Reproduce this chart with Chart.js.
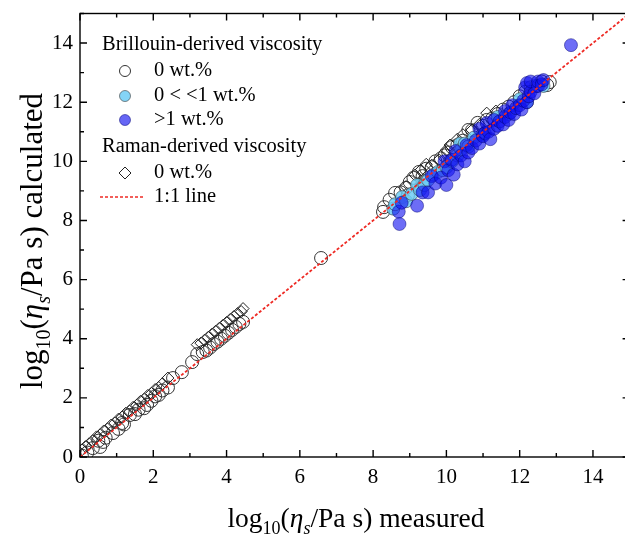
<!DOCTYPE html>
<html>
<head>
<meta charset="utf-8">
<script src="https://cdn.jsdelivr.net/npm/chart.js@4.4.0/dist/chart.umd.min.js"></script>
<style>
  html, body { margin: 0; padding: 0; background: #fff; overflow: hidden; }
</style>
</head>
<body>
<canvas id="viscChart" width="640" height="535"></canvas>
<script>
// --- data (log10 viscosity, measured vs calculated) ---

// Brillouin-derived, 0 wt.% (open circles)
const openX = [0.05, 0.2, 0.35, 0.55, 0.5, 0.63, 0.7, 0.9, 1.05, 1.15, 1.2, 1.36, 1.5, 1.6, 1.75, 1.83, 1.95, 2.05, 2.15, 2.25, 2.4, 2.54, 2.78, 3.06, 3.2, 3.35, 3.45, 3.55, 3.65, 3.75, 3.85, 3.95, 4.05, 4.15, 4.25, 4.35, 4.45, 6.58,
  8.27, 8.3, 8.45, 8.6, 8.75, 8.9, 8.95, 9.0, 9.1, 9.25, 9.35, 9.4, 9.45, 9.6, 9.7, 9.85, 9.95, 10.05, 10.1, 10.15, 10.3, 10.45, 10.6, 10.7, 10.85, 11.0, 11.1, 11.25, 11.4, 11.55, 11.7, 11.85, 12.0, 12.15, 12.3, 12.45, 12.6, 12.75, 12.82];
const openY = [0.05, 0.15, 0.3, 0.34, 0.55, 0.51, 0.65, 0.81, 0.95, 1.15, 1.1, 1.42, 1.45, 1.6, 1.65, 1.76, 1.9, 2.05, 2.1, 2.25, 2.35, 2.67, 2.87, 3.21, 3.48, 3.55, 3.6, 3.7, 3.82, 3.9, 4.0, 4.1, 4.2, 4.3, 4.4, 4.5, 4.57, 6.73,
  8.29, 8.45, 8.7, 8.93, 8.95, 9.1, 8.85, 9.3, 9.44, 9.64, 9.5, 9.3, 9.75, 9.8, 10.0, 10.1, 10.2, 10.3, 10.0, 10.48, 10.55, 10.7, 11.06, 11.05, 11.3, 11.2, 11.4, 11.45, 11.6, 11.75, 11.85, 12.0, 12.2, 12.35, 12.5, 12.55, 12.7, 12.58, 12.68];

// Brillouin-derived, 0 < <1 wt.% (light blue)
const lightX = [8.55, 8.6, 8.79, 8.9, 9.05, 9.2, 9.28, 9.4, 9.5, 9.65, 9.77, 9.9, 10.0, 10.15, 10.3, 10.37, 10.4, 10.5, 10.6, 10.75, 11.0, 11.4, 11.7, 12.0, 12.2, 12.65];
const lightY = [8.4, 8.55, 8.79, 8.65, 8.9, 9.2, 9.03, 9.2, 9.37, 9.55, 9.64, 9.7, 9.8, 10.0, 10.2, 10.6, 10.4, 10.6, 10.5, 10.8, 10.9, 11.5, 11.6, 12.1, 12.0, 12.55];

// Brillouin-derived, >1 wt.% (blue)
const blueX = [8.72, 8.7, 8.78, 9.2, 9.35, 9.5, 9.6, 9.7, 9.85, 9.95, 10.0, 10.05, 10.15, 10.2, 10.25, 10.3, 10.4, 10.5, 10.55, 10.6, 10.7, 10.8, 10.9, 10.9, 11.0, 11.05, 11.1, 11.15, 11.2, 11.3, 11.3, 11.4, 11.45, 11.55, 11.6, 11.6, 11.7, 11.75, 11.8, 11.85, 11.9, 12.0, 12.05, 12.1, 12.15, 12.2, 12.2, 12.25, 12.3, 12.3, 12.4, 12.5, 12.5, 12.6, 12.65, 13.4];
const blueY = [7.88, 8.3, 8.6, 8.5, 8.95, 8.95, 9.5, 9.25, 9.45, 10.0, 9.2, 9.7, 10.05, 9.55, 10.35, 9.9, 10.2, 10.0, 10.55, 10.3, 10.45, 10.7, 10.6, 11.1, 10.85, 10.95, 11.3, 11.0, 10.75, 11.1, 11.4, 11.2, 11.35, 11.25, 11.5, 11.7, 11.4, 11.65, 11.9, 11.6, 11.8, 11.9, 11.75, 12.05, 12.5, 12.0, 12.65, 12.2, 12.35, 12.7, 12.3, 12.55, 12.7, 12.6, 12.75, 13.93];

// Raman-derived, 0 wt.% (open diamonds)
const ramanX = [0.05, 0.15, 0.25, 0.35, 0.45, 0.55, 0.65, 0.75, 0.85, 0.95, 1.05, 1.15, 1.25, 1.35, 1.45, 1.55, 1.65, 1.75, 1.85, 1.95, 2.05, 2.15, 2.25, 2.4,
  3.2, 3.3, 3.4, 3.5, 3.6, 3.7, 3.8, 3.9, 4.0, 4.1, 4.2, 4.3, 4.4, 4.45,
  8.9, 9.14, 9.3, 9.45, 9.6, 9.8, 10.0, 10.1, 10.3, 10.45, 10.7, 10.9, 11.1, 11.35];
const ramanY = [0.24, 0.35, 0.45, 0.55, 0.68, 0.75, 0.88, 0.95, 1.08, 1.15, 1.28, 1.35, 1.48, 1.55, 1.68, 1.75, 1.88, 1.95, 2.08, 2.15, 2.28, 2.35, 2.48, 2.67,
  3.8, 3.85, 3.95, 4.05, 4.15, 4.25, 4.35, 4.45, 4.55, 4.65, 4.75, 4.85, 4.92, 5.02,
  9.15, 9.54, 9.7, 9.9, 9.87, 10.05, 10.38, 10.55, 10.75, 10.9, 11.06, 11.25, 11.63, 11.7];

// 1:1 line
const lineX = [0, 15];
const lineY = [0, 15];

const serif = '"Liberation Serif", "Times New Roman", serif';

const toPoints = (xs, ys) => xs.map((v, i) => ({ x: v, y: ys[i] }));

// axis frame with inward ticks on all four sides
const framePlugin = {
  id: 'frame',
  afterDraw(chart) {
    const { ctx, chartArea: a, scales } = chart;
    ctx.save();
    ctx.strokeStyle = '#000';
    ctx.lineWidth = 1.4;
    ctx.strokeRect(a.left, a.top, a.right - a.left, a.bottom - a.top);
    ctx.beginPath();
    scales.x.ticks.forEach(t => {
      const len = t.value % 2 ? 4 : 7;
      const px = scales.x.getPixelForValue(t.value);
      ctx.moveTo(px, a.bottom); ctx.lineTo(px, a.bottom - len);
      ctx.moveTo(px, a.top); ctx.lineTo(px, a.top + len);
    });
    scales.y.ticks.forEach(t => {
      const len = t.value % 2 ? 4 : 7;
      const py = scales.y.getPixelForValue(t.value);
      ctx.moveTo(a.left, py); ctx.lineTo(a.left + len, py);
      ctx.moveTo(a.right, py); ctx.lineTo(a.right - len, py);
    });
    ctx.stroke();
    ctx.restore();
  }
};

// axis titles: log10(eta_s/Pa s) with sub/italic parts
function titleParts(tail, big, small, drop) {
  return [
    { t: 'log', f: big + 'px ' + serif, dy: 0 },
    { t: '10', f: small + 'px ' + serif, dy: drop },
    { t: '(', f: big + 'px ' + serif, dy: 0 },
    { t: 'η', f: 'italic ' + big + 'px ' + serif, dy: 0 },
    { t: 's', f: 'italic ' + small + 'px ' + serif, dy: drop },
    { t: '/Pa s) ' + tail, f: big + 'px ' + serif, dy: 0 }
  ];
}

function drawRich(ctx, parts, cx, baseY) {
  let total = 0;
  parts.forEach(p => { ctx.font = p.f; p.w = ctx.measureText(p.t).width; total += p.w; });
  let x = cx - total / 2;
  ctx.textAlign = 'left';
  ctx.textBaseline = 'alphabetic';
  parts.forEach(p => { ctx.font = p.f; ctx.fillText(p.t, x, baseY + p.dy); x += p.w; });
}

const titlePlugin = {
  id: 'titles',
  afterDraw(chart) {
    const { ctx } = chart;
    ctx.save();
    ctx.fillStyle = '#000';
    drawRich(ctx, titleParts('measured', 27.5, 18, 7), 356, 527);
    ctx.translate(42, 241);
    ctx.rotate(-Math.PI / 2);
    drawRich(ctx, titleParts('calculated', 31, 20, 8), 0, 0);
    ctx.restore();
  }
};

// legend box drawn by hand (has group headers)
const legendPlugin = {
  id: 'legendBox',
  afterDraw(chart) {
    const { ctx } = chart;
    ctx.save();
    ctx.fillStyle = '#000';
    ctx.font = '20.5px ' + serif;
    ctx.textBaseline = 'middle';
    ctx.textAlign = 'left';
    ctx.fillText('Brillouin-derived viscosity', 102, 45);
    ctx.fillText('0 wt.%', 154, 71);
    ctx.fillText('0 < <1 wt.%', 154, 96);
    ctx.fillText('>1 wt.%', 154, 120);
    ctx.fillText('Raman-derived viscosity', 102, 147);
    ctx.fillText('0 wt.%', 154, 173);
    ctx.fillText('1:1 line', 154, 197);

    ctx.lineWidth = 1;
    ctx.strokeStyle = '#333';
    ctx.beginPath(); ctx.arc(125, 71, 5.5, 0, Math.PI * 2); ctx.stroke();
    ctx.fillStyle = 'rgba(110, 205, 245, 0.85)';
    ctx.beginPath(); ctx.arc(125, 96, 5.5, 0, Math.PI * 2); ctx.fill();
    ctx.strokeStyle = 'rgba(60, 60, 60, 0.6)'; ctx.stroke();
    ctx.fillStyle = 'rgba(20, 20, 240, 0.65)';
    ctx.beginPath(); ctx.arc(125, 120, 5.5, 0, Math.PI * 2); ctx.fill();
    ctx.strokeStyle = 'rgba(0, 0, 120, 0.5)'; ctx.stroke();
    ctx.strokeStyle = '#222';
    ctx.beginPath();
    ctx.moveTo(125, 167); ctx.lineTo(131, 173); ctx.lineTo(125, 179); ctx.lineTo(119, 173); ctx.closePath();
    ctx.stroke();
    ctx.strokeStyle = '#ee2a24';
    ctx.lineWidth = 1.6;
    ctx.setLineDash([3, 2]);
    ctx.beginPath(); ctx.moveTo(100, 197); ctx.lineTo(145, 197); ctx.stroke();
    ctx.restore();
  }
};

const ctx = document.getElementById('viscChart').getContext('2d');

new Chart(ctx, {
  type: 'scatter',
  data: {
    datasets: [
      {
        label: '1:1 line',
        data: toPoints(lineX, lineY),
        showLine: true,
        borderColor: '#ee2a24',
        borderWidth: 1.8,
        borderDash: [3, 2],
        pointRadius: 0,
        order: 0
      },
      {
        label: '>1 wt.%',
        data: toPoints(blueX, blueY),
        pointRadius: 6.5,
        backgroundColor: 'rgba(20, 20, 240, 0.62)',
        borderColor: 'rgba(0, 0, 110, 0.45)',
        borderWidth: 1,
        order: 1
      },
      {
        label: '0 < <1 wt.%',
        data: toPoints(lightX, lightY),
        pointRadius: 6.5,
        backgroundColor: 'rgba(110, 205, 245, 0.85)',
        borderColor: 'rgba(60, 60, 60, 0.6)',
        borderWidth: 1,
        order: 2
      },
      {
        label: 'Raman 0 wt.%',
        data: toPoints(ramanX, ramanY),
        pointStyle: 'rectRot',
        pointRadius: 6,
        backgroundColor: 'rgba(255, 255, 255, 0)',
        borderColor: '#222',
        borderWidth: 1,
        order: 3
      },
      {
        label: '0 wt.%',
        data: toPoints(openX, openY),
        pointRadius: 6.5,
        backgroundColor: 'rgba(255, 255, 255, 0)',
        borderColor: '#333',
        borderWidth: 1,
        order: 4
      }
    ]
  },
  options: {
    responsive: false,
    animation: false,
    layout: { padding: { top: 13.5, right: 10.4, left: 0, bottom: 0 } },
    plugins: {
      legend: { display: false },
      tooltip: { enabled: false }
    },
    scales: {
      x: {
        type: 'linear',
        min: 0,
        max: 15,
        grid: { display: false, drawTicks: false },
        border: { display: false },
        ticks: {
          stepSize: 1,
          autoSkip: false,
          maxRotation: 0,
          padding: 8,
          color: '#000',
          font: { family: serif, size: 21 },
          callback: v => (v % 2 === 0 ? v : '')
        },
        afterFit: s => { s.height = 78; s.paddingLeft = 0; s.paddingRight = 0; }
      },
      y: {
        type: 'linear',
        min: 0,
        max: 15,
        grid: { display: false, drawTicks: false },
        border: { display: false },
        ticks: {
          stepSize: 1,
          autoSkip: false,
          padding: 7,
          color: '#000',
          font: { family: serif, size: 21 },
          callback: v => (v % 2 === 0 ? v : '')
        },
        afterFit: s => { s.width = 80; s.paddingTop = 0; s.paddingBottom = 0; }
      }
    }
  },
  plugins: [framePlugin, titlePlugin, legendPlugin]
});
</script>
</body>
</html>
